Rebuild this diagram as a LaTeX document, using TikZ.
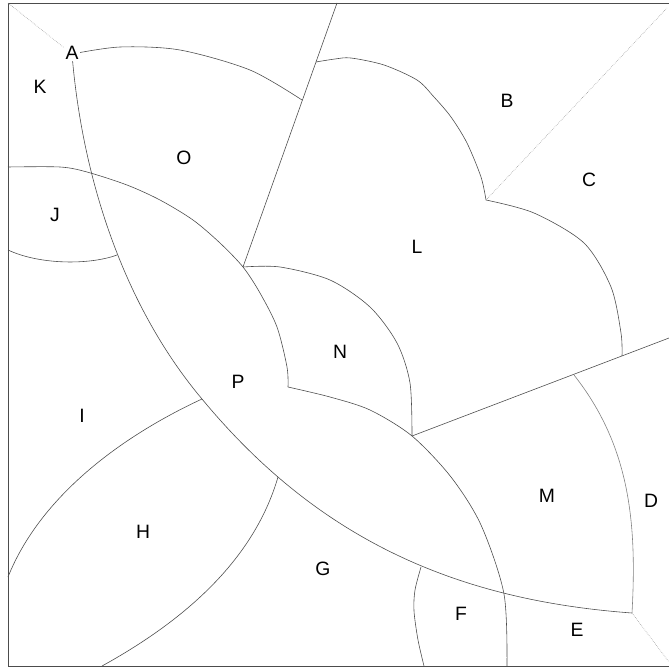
\documentclass[tikz,border=0pt]{standalone}
\usepackage{fontspec}
\setmainfont{Liberation Sans}
\usepackage{tikz}
\usetikzlibrary{positioning}

\begin{document}
\begin{tikzpicture}[x=0.03cm, y=-0.03cm, font=\fontsize{16.5}{18}\selectfont,
    edge/.style={draw=black!70, line width=0.5pt},
    lightedge/.style={draw=black!50, line width=0.5pt},
    faint/.style={draw=black!40, line width=0.5pt, densely dotted},
    region/.style={inner sep=1pt}]
        \useasboundingbox (0,0) rectangle (669,668);
        % Frame (left, top, bottom)
        \draw[edge] (669,3) -- (8,3) -- (8,666) -- (669,666);
        % Junctions
        \coordinate (jtl) at (8,3);
        \coordinate (ja) at (72,54);
        \coordinate (jk) at (87,172);
        \coordinate (jj) at (117,255);
        \coordinate (jo) at (302,100);
        \coordinate (jtop) at (337,3);
        \coordinate (jlt) at (316,62);
        \coordinate (jn) at (243,267);
        \coordinate (jnb) at (288,387);
        \coordinate (jm) at (412,436);
        \coordinate (jbc) at (486,200);
        \coordinate (jtr) at (667,8);
        \coordinate (jlr) at (622,356);
        \coordinate (jd) at (574,375);
        \coordinate (jr) at (669,338);
        \coordinate (jp) at (632,613);
        \coordinate (jbr) at (669,662);
        \coordinate (jh) at (202,399);
        \coordinate (jg) at (278,477);
        \coordinate (jf) at (421,567);
        \coordinate (je) at (506,596);
        % Long arc from A
        \draw[edge] (ja) .. controls (82,177) and (123,305) .. (jh)
                         .. controls (317,538) and (454,600) .. (jp);
        % O top arc
        \draw[edge] plot[smooth] coordinates {(ja) (120,47) (180,50) (250,70) (jo)};
        \draw[faint] (jtl) -- (ja);
        % Straight divider
        \draw[edge] (jtop) -- (jn);
        % Upper boundary of P
        \draw[edge] plot[smooth] coordinates {(8,167) (60,167) (jk) (127,185)
              (160,200) (193,220) (220,243) (jn) (260,293) (277,327) (287,367) (jnb)};
        % J bottom
        \draw[edge] (8,250) .. controls (40,265) and (90,265) .. (jj);
        % N right arc
        \draw[edge] plot[smooth] coordinates {(jn) (280,267) (330,280) (370,307)
              (397,343) (410,383) (jm)};
        % N bottom, P / M, F / E
        \draw[edge] plot[smooth] coordinates {(jnb) (330,397) (370,410) (jm)
              (451,477) (481,525) (504,594) (507,666)};
        \draw[edge] (jm) -- (jr);
        % L scallops
        \draw[edge] plot[smooth] coordinates {(jlt) (335,59) (351,58) (384,65)
              (417,80) (434,97) (451,117) (467,143) (481,177) (jbc)};
        \draw[edge] plot[smooth] coordinates {(jbc) (534,213) (584,243) (611,287)
              (621,333) (jlr)};
        \draw[faint] (jbc) -- (jtr);
        % D arc
        \draw[lightedge] (jd) .. controls (630,446) and (637,523) .. (jp);
        \draw[faint] (jp) -- (jbr);
        % F left arc
        \draw[edge] plot[smooth] coordinates {(jf) (415,590) (414,611) (418,640) (424,666)};
        % H
        \draw[edge] (8,577) .. controls (40,497) and (120,437) .. (jh);
        \draw[edge] (102,666) .. controls (180,623) and (253,563) .. (jg);
        % Region labels
        \node[region, fill=white] (a) at (72,53) {A};
        \node[region] (k) at (40,87) {K};
        \node[region] (o) at (184,158) {O};
        \node[region] (j) at (55,215) {J};
        \node[region] (b) at (507,101) {B};
        \node[region] (c) at (589,180) {C};
        \node[region] (l) at (417,247) {L};
        \node[region] (n) at (340,352) {N};
        \node[region] (p) at (238,382) {P};
        \node[region] (i) at (82,416) {I};
        \node[region] (h) at (143,532) {H};
        \node[region] (g) at (323,569) {G};
        \node[region] (m) at (547,496) {M};
        \node[region] (d) at (651,501) {D};
        \node[region] (f) at (461,614) {F};
        \node[region] (e) at (577,630) {E};
      \end{tikzpicture}
\end{document}
